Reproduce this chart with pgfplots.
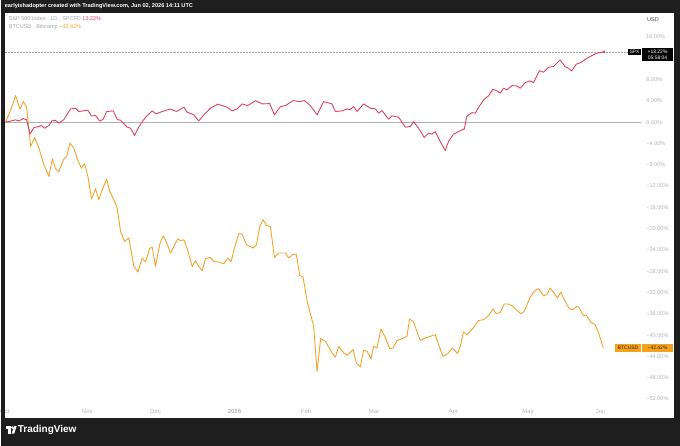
\documentclass[border=0pt]{standalone}
\usepackage{pgfplots}
\pgfplotsset{compat=1.18}
\usepackage{fontspec}
\setmainfont{Liberation Sans}
\definecolor{frame}{HTML}{1E1E1E}
\definecolor{spx}{HTML}{E0455E}
\definecolor{btc}{HTML}{F5A32A}
\definecolor{btcbox}{HTML}{F7A21B}
\definecolor{axtext}{HTML}{B2B5BE}
\definecolor{legtext}{HTML}{A3A6AF}
\definecolor{zeroline}{HTML}{B0B0B0}
\begin{document}
\begin{tikzpicture}[x=1pt,y=1pt]
\fill[frame] (0,0) rectangle (680,446);
\fill[white] (4,28) rectangle (674,433);
\node[anchor=west,inner sep=0pt,text=white,font=\fontsize{5.6}{6}\selectfont\bfseries] at (4,440) {earlyishadopter created with TradingView.com, Jun 02, 2026 14:11 UTC};
\node[anchor=west,inner sep=0pt,font=\fontsize{5.5}{6}\selectfont] at (8,427) {\textcolor{legtext}{S\&P 500 Index · 1D · SPCFD}\ \textcolor{spx}{13.22\%}};
\node[anchor=west,inner sep=0pt,font=\fontsize{5.5}{6}\selectfont] at (8,419) {\textcolor{legtext}{BTCUSD · Bitstamp}\ \textcolor{btc}{−42.42\%}};
\node[anchor=west,inner sep=0pt,text=black!70,font=\fontsize{5.5}{6}\selectfont] at (647,426) {USD};
\begin{axis}[
  at={(4pt,41pt)}, anchor=south west,
  width=637pt, height=392pt, scale only axis,
  xmin=4, xmax=641, ymin=-53.05, ymax=20.51,
  axis line style={draw=none},
  major tick length=0pt,
  clip=true,
  xtick={4,86.7,155,234,305.7,373.8,453,528,600.6},
  xticklabels={Oct,Nov,Dec,{\bfseries 2026},Feb,Mar,Apr,May,Jun},
  xticklabel style={anchor=center,inner sep=0pt,yshift=-7pt,text=axtext,font=\fontsize{6}{7}\selectfont},
  ytick={16,8,4,0,-4,-8,-12,-16,-20,-24,-28,-32,-36,-40,-44,-48,-52},
  yticklabels={16.00\%,8.00\%,4.00\%,0.00\%,−4.00\%,−8.00\%,−12.00\%,−16.00\%,−20.00\%,−24.00\%,−28.00\%,−32.00\%,−36.00\%,−40.00\%,−44.00\%,−48.00\%,−52.00\%},
  yticklabel pos=right,
  yticklabel style={anchor=west,inner sep=0pt,xshift=5pt,text=axtext,font=\fontsize{5.6}{6}\selectfont},
]
\addplot[zeroline,line width=0.6pt] coordinates {(4,0) (641,0)};
\addplot[legtext,line width=0.5pt,densely dotted] coordinates {(4,13.22) (627,13.22)};
\addplot[btc,line width=0.9pt,line join=round] coordinates {
(5,0) (10,2.31) (15,5.0) (19.3,2.44) (22.7,3.86) (26,2.74) (30,-4.58) (34,-2.89) (38.3,-4.88) (43.3,-8.01)
(48.3,-10.2) (51.7,-6.89) (55,-8.76) (58.3,-9.27) (62.7,-7.07) (66,-6.45) (69.3,-3.94) (73.3,-4.88) (76.7,-6.89) (80.7,-8.63)
(84,-7.82) (87.3,-10.2) (91,-14.39) (95,-12.51) (98.3,-14.58) (101.7,-12.7) (106,-10.69) (109.3,-13.02) (113.3,-14.58) (116.7,-16.14)
(120,-20.53) (124,-22.4) (128.3,-21.76) (133.3,-27.09) (137.3,-28.14) (141.7,-25.52) (145,-26.27) (149.3,-23.64) (151.7,-23.53) (155,-27.09)
(159.3,-22.89) (162.7,-21.33) (166.7,-22.89) (170,-24.58) (177.3,-21.9) (180,-22.27) (183.3,-22.08) (186.7,-23.77) (191.7,-27.09) (195,-26.02)
(198.3,-27.09) (201.7,-27.9) (205,-25.65) (209.3,-25.4) (213.3,-26.15) (218.3,-26.27) (223.3,-26.59) (227.3,-25.52) (230.7,-26.15) (234,-23.64)
(238.3,-20.96) (241.7,-21.01) (246,-23.02) (252.7,-23.64) (256,-23.02) (259.3,-19.59) (262.7,-18.33) (266,-19.4) (270,-19.59) (274,-25.4)
(278.3,-24.58) (285,-24.58) (288.3,-25.52) (292.7,-24.77) (296,-24.9) (299.3,-28.78) (302.7,-29.08) (306.7,-33.6) (313.3,-38.35) (316.7,-46.85)
(320.3,-40.66) (325,-41.16) (331.7,-43.34) (335,-44.16) (338.3,-42.1) (343.3,-43.34) (346.7,-43.79) (352.7,-42.72) (356,-45.22) (360,-45.97)
(363.3,-42.85) (366.7,-43.04) (370.7,-44.41) (373.3,-42.1) (376.7,-42.4) (380.7,-38.84) (385,-40.41) (389.3,-42.53) (392.7,-42.4) (396.7,-41.03)
(403.3,-40.53) (406.7,-40.23) (409.3,-36.96) (413.3,-37.52) (420,-41.03) (425,-40.53) (430,-40.23) (435,-39.91) (438.3,-41.78) (442.7,-43.98)
(447.3,-43.53) (451.7,-42.53) (454,-42.72) (457.3,-43.47) (460,-42.1) (463.3,-39.4) (467,-39.91) (471.7,-38.97) (478.3,-37.28) (483.3,-37.09)
(488.3,-36.34) (492.7,-35.08) (496,-35.97) (500,-35.76) (504,-34.15) (508.3,-34.15) (512.7,-34.6) (516.7,-35.35) (520.7,-35.97) (524,-35.55)
(530,-32.9) (534,-31.78) (538.3,-31.28) (543.3,-32.59) (546.7,-32.4) (550,-31.14) (554,-32.08) (557.3,-33.02) (560.7,-31.9) (565,-33.66)
(569.3,-35.08) (572.7,-35.22) (576.7,-34.6) (579.3,-34.9) (583.3,-36.34) (586,-36.21) (590.7,-37.6) (595,-38.03) (598.3,-39.47) (603.3,-42.42)
};
\addplot[spx,line width=0.9pt,line join=round] coordinates {
(5,0) (15,0.43) (18.3,0.24) (22.7,0.68) (26,0.43) (29.3,-2.25) (33.3,-1.0) (36.7,-0.88) (40.7,-0.63) (44,-1.13)
(48.3,-0.63) (51.7,0.37) (55,0.3) (58.3,-0.19) (63.3,0.49) (70,2.5) (75,2.6) (78.3,2.0) (82.7,2.12) (87.3,2.25)
(90.7,1.18) (95,1.24) (99.3,0.19) (102.7,0.56) (106,2.0) (112.7,2.12) (116.7,0.49) (120,0.37) (126.7,-0.94) (130,-1.13)
(134,-2.5) (138,-1.0) (141.7,0.1) (146.7,1.24) (151.7,2.12) (155.7,1.56) (161.7,2.0) (170,2.47) (176,2.0) (183.3,2.81)
(186.7,1.88) (193.3,1.37) (198.3,0.24) (203.3,1.37) (210,2.63) (217.3,3.38) (226.7,2.81) (231.7,2.12) (236.7,2.5) (241.7,3.43)
(247.3,3.11) (255,4.05) (261.7,3.43) (269.3,3.49) (274,1.37) (280,2.93) (285,3.11) (292.7,4.05) (300,3.86) (304,4.05)
(310,3.11) (316.7,1.37) (323.3,3.86) (331.7,3.43) (335,2.0) (341.7,2.12) (346.7,2.5) (349.3,2.31) (353.3,2.93) (356.7,2.0)
(363.3,3.43) (370,2.63) (375,2.5) (378.3,1.69) (381.7,2.18) (388.3,0.56) (391.7,1.18) (398.3,0.94) (405,-0.94) (410,-0.82)
(413.3,0.1) (418.3,-1.13) (424,-2.89) (428.3,-2.06) (431.7,-2.25) (435,-1.76) (440,-3.64) (445,-5.33) (448.3,-3.64) (453.3,-2.25)
(460,-1.6) (464,-1.3) (466.7,1.1) (471.7,1.8) (475,1.69) (480,3.25) (484,4.32) (488.3,4.93) (492.7,6.19) (496.7,5.87)
(500,5.44) (503.3,6.38) (506.7,6.06) (511.7,6.87) (516.7,6.81) (520,6.38) (525,7.43) (530,7.75) (533.3,7.43) (539.3,9.68)
(543.3,9.38) (548.3,10.32) (553.3,10.43) (560,11.69) (565,10.43) (568.3,10.13) (571.7,9.62) (576,10.88) (580.7,11.18) (586.7,12.0)
(591.7,12.5) (596.7,12.95) (604,13.22)
};
\addplot[spx,only marks,mark=*,mark size=1.1pt] coordinates {(604,13.22)};
\end{axis}
% left border strip over the clipped Oct label
\fill[frame] (0,0) rectangle (4,446);
% price labels
\fill[black] (628,391) rectangle (641,397);
\node[text=white,inner sep=0pt,font=\fontsize{4.8}{5}\selectfont] at (634.5,394) {SPX};
\fill[black] (642,384.5) rectangle (673,397.5);
\node[text=white,inner sep=0pt,font=\fontsize{5}{5}\selectfont] at (657.5,394.2) {+13.22\%};
\node[text=white,inner sep=0pt,font=\fontsize{5}{5}\selectfont] at (657.5,387.8) {05:58:04};
\fill[btcbox] (615,94) rectangle (641,101.5);
\node[text=black!85,inner sep=0pt,font=\fontsize{5}{5}\selectfont] at (628,97.7) {BTCUSD};
\fill[btcbox] (642,94) rectangle (673,101.5);
\node[text=black!85,inner sep=0pt,font=\fontsize{5}{5}\selectfont] at (657.5,97.7) {−42.42\%};
% TradingView logo
\fill[white] (5,17) rectangle (10,19.5);
\fill[white] (7.5,12) rectangle (10,19.5);
\fill[white] (11.6,18.1) circle (1.3);
\fill[white] (11,12) -- (13.6,12) -- (16,19.5) -- (13.4,19.5) -- cycle;
\node[anchor=west,inner sep=0pt,text=white,font=\fontsize{10}{11}\selectfont\bfseries] at (17,15.5) {TradingView};
\end{tikzpicture}
\end{document}
